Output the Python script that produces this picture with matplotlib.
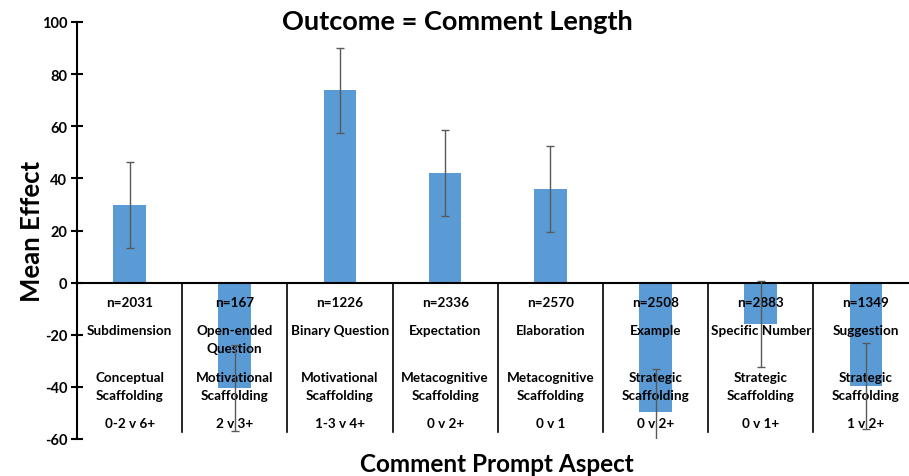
import matplotlib
matplotlib.use("Agg")
import matplotlib.pyplot as plt
import numpy as np

plt.rcParams['font.family'] = ['Lato', 'DejaVu Sans']

# mean effects and error half-widths
means = [29.7, -40.4, 73.8, 42.0, 35.8, -49.5, -16.0, -39.7]
errs = [16.5, 16.5, 16.3, 16.5, 16.5, 16.5, 16.5, 16.5]
n_labels = ["n=2031", "n=167", "n=1226", "n=2336", "n=2570", "n=2508", "n=2883", "n=1349"]
aspects = ["Subdimension", "Open-ended\nQuestion", "Binary Question", "Expectation",
           "Elaboration", "Example", "Specific Number", "Suggestion"]
groups = ["Conceptual\nScaffolding", "Motivational\nScaffolding", "Motivational\nScaffolding",
          "Metacognitive\nScaffolding", "Metacognitive\nScaffolding", "Strategic\nScaffolding",
          "Strategic\nScaffolding", "Strategic\nScaffolding"]
ranges = ["0-2 v 6+", "2 v 3+", "1-3 v 4+", "0 v 2+", "0 v 1", "0 v 2+", "0 v 1+", "1 v 2+"]
yticks = [-60, -40, -20, 0, 20, 40, 60, 80, 100]

fig = plt.figure(figsize=(9.09, 4.77), dpi=100)
ax = fig.add_axes([77 / 909, 1 - 440 / 477, 1 - 77 / 909, (440 - 23) / 477])

x = np.arange(len(means))
ax.bar(x, means, width=0.31, color='#5B9BD5', zorder=2)
ax.errorbar(x, means, yerr=errs, fmt='none', ecolor='#595959', elinewidth=1,
            capsize=3, capthick=1, zorder=4)

ax.set_xlim(-0.5, 7.41)
ax.set_ylim(-60, 100)
ax.set_yticks(yticks)
ax.set_yticklabels([str(v) for v in yticks], fontweight='bold', fontsize=10.5)
ax.tick_params(axis='y', direction='inout', length=8, width=1.5, pad=3)
ax.set_xticks([])
for s in ['top', 'right', 'bottom']:
    ax.spines[s].set_visible(False)
ax.spines['left'].set_linewidth(1.5)
ax.axhline(0, color='black', lw=1.5, zorder=3)

# category separators below the zero line
for i in range(len(means) - 1):
    ax.plot([i + 0.5, i + 0.5], [0, -57.3], color='black', lw=1.2, zorder=3)

fs = 9.7
for i in x:
    ax.text(i, -7.3, n_labels[i], ha='center', va='center', fontsize=fs,
            fontweight='bold', zorder=3)
    for k, line in enumerate(aspects[i].split('\n')):
        ax.text(i, -18.3 - 6.7 * k, line, ha='center', va='center', fontsize=fs,
                fontweight='bold', zorder=3)
    for k, line in enumerate(groups[i].split('\n')):
        ax.text(i, -36.2 - 6.9 * k, line, ha='center', va='center', fontsize=fs,
                fontweight='bold', zorder=3)
    ax.text(i, -53.8, ranges[i], ha='center', va='center', fontsize=fs,
            fontweight='bold', zorder=3)

fig.text(0.503, 1 - 22 / 477, "Outcome = Comment Length", ha='center', va='center',
         fontsize=19.5, fontweight='bold')
fig.text(32 / 909, 1 - 231 / 477, "Mean Effect", ha='center', va='center',
         rotation=90, fontsize=18.5, fontweight='bold')
fig.text(497 / 909, 1 - 465 / 477, "Comment Prompt Aspect", ha='center', va='center',
         fontsize=17.5, fontweight='bold')

fig.savefig("out.png", dpi=100)
